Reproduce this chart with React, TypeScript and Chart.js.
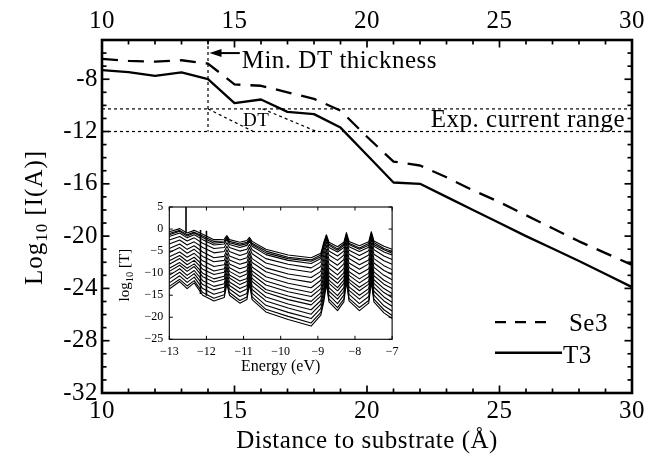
import React, { useEffect, useRef } from 'react';
import { Chart, registerables } from 'chart.js';

Chart.register(...registerables);

const FONT = '"Liberation Serif", "Times New Roman", serif';

// ---------------- main chart data ----------------
const distance = [10, 11, 12, 13, 14, 15, 16, 17, 18, 19, 20, 21, 22, 23, 24, 25, 26, 27, 28, 29, 30];
const se3LogI = [-6.45, -6.6, -6.65, -6.55, -6.8, -8.4, -8.5, -9.0, -9.5, -10.4, -12.4, -14.3, -14.6, -15.5, -16.5, -17.4, -18.4, -19.4, -20.4, -21.3, -22.2];
const t3LogI = [-7.3, -7.45, -7.75, -7.47, -8.0, -9.83, -9.55, -10.5, -10.67, -11.7, -13.8, -15.9, -16.0, -17.0, -18.0, -19.0, -20.0, -20.95, -21.9, -22.9, -23.9];
const xTickValues = [10, 15, 20, 25, 30];
const yTickValues = [-32, -28, -24, -20, -16, -12, -8];
const minDTThickness = 14;
const expCurrentRange = [-10.27, -12];
const dtWedgeA = [[14, -10.27], [15.71, -12]];
const dtWedgeB = [[16.06, -10.27], [18.1, -12]];

// ---------------- inset data ----------------
const insetEnergy = [-13, -12.72, -12.52, -12.33, -12.1, -11.8, -11.52, -11.45, -11.38, -11.1, -10.91, -10.84, -10.77, -10.4, -9.8, -9.18, -8.92, -8.84, -8.77, -8.7, -8.47, -8.3, -8.23, -8.16, -7.88, -7.63, -7.56, -7.49, -7.22, -7.0];
const insetLogT = [
  [-0.6, 0.1, -0.9, -0.3, -1.2, -2.4, -2.3, -1.5, -2.4, -3.0, -2.6, -1.9, -2.8, -4.6, -5.9, -6.5, -5.5, -3.0, -1.3, -3.0, -4.0, -3.0, -0.8, -2.8, -3.8, -2.9, -0.6, -2.7, -3.9, -4.6],
  [-1.0, -0.3, -1.3, -0.7, -1.6, -2.8, -2.7, -1.8, -2.8, -3.4, -3.0, -2.2, -3.2, -5.0, -6.4, -7.0, -5.9, -3.4, -1.7, -3.4, -4.5, -3.4, -1.2, -3.2, -4.3, -3.3, -1.0, -3.1, -4.4, -5.1],
  [-1.3, -0.5, -1.6, -0.9, -1.9, -3.2, -3.0, -2.1, -3.1, -3.7, -3.3, -2.5, -3.5, -5.4, -6.7, -7.3, -6.3, -3.7, -1.9, -3.7, -4.8, -3.7, -1.4, -3.5, -4.6, -3.7, -1.2, -3.5, -4.7, -5.5],
  [-1.7, -0.9, -2.0, -1.3, -2.4, -3.6, -3.4, -2.4, -3.5, -4.2, -3.7, -2.8, -3.9, -5.8, -7.1, -7.8, -6.7, -4.2, -2.3, -4.2, -5.2, -4.2, -1.8, -4.0, -5.1, -4.1, -1.6, -3.9, -5.2, -5.9],
  [-2.5, -1.7, -2.7, -2.0, -3.2, -4.4, -4.2, -3.1, -4.2, -5.0, -4.6, -3.5, -4.7, -6.7, -8.0, -8.8, -7.5, -5.0, -2.9, -5.0, -6.1, -5.0, -2.4, -4.8, -6.0, -4.9, -2.3, -4.7, -6.1, -6.9],
  [-3.4, -2.5, -3.6, -2.9, -4.2, -5.4, -5.1, -3.9, -5.1, -6.0, -5.5, -4.2, -5.6, -7.7, -9.0, -9.8, -8.5, -5.9, -3.7, -5.9, -7.1, -5.9, -3.2, -5.7, -7.0, -5.9, -3.1, -5.7, -7.2, -8.0],
  [-4.4, -3.4, -4.6, -3.8, -5.2, -6.5, -6.2, -4.7, -6.1, -7.0, -6.5, -5.0, -6.7, -8.8, -10.2, -11.0, -9.6, -6.9, -4.6, -6.9, -8.2, -6.9, -4.1, -6.7, -8.1, -7.0, -3.9, -6.7, -8.3, -9.2],
  [-5.3, -4.2, -5.5, -4.6, -6.2, -7.4, -7.1, -5.5, -7.0, -8.0, -7.5, -5.7, -7.6, -9.7, -11.2, -12.1, -10.6, -7.9, -5.4, -7.9, -9.3, -7.9, -4.9, -7.7, -9.1, -7.9, -4.7, -7.7, -9.4, -10.3],
  [-6.3, -5.2, -6.4, -5.5, -7.2, -8.5, -8.1, -6.3, -7.9, -9.0, -8.5, -6.5, -8.6, -10.8, -12.3, -13.3, -11.6, -8.9, -6.2, -8.9, -10.4, -8.9, -5.7, -8.7, -10.2, -9.0, -5.6, -8.7, -10.5, -11.5],
  [-7.2, -6.0, -7.3, -6.4, -8.2, -9.5, -9.0, -7.1, -8.8, -10.0, -9.4, -7.3, -9.5, -11.8, -13.3, -14.4, -12.6, -9.9, -7.0, -9.9, -11.4, -9.9, -6.5, -9.7, -11.3, -10.0, -6.4, -9.7, -11.6, -12.6],
  [-8.0, -6.7, -8.1, -7.1, -9.1, -10.3, -9.8, -7.8, -9.6, -10.9, -10.2, -7.9, -10.3, -12.7, -14.2, -15.3, -13.5, -10.7, -7.7, -10.7, -12.3, -10.7, -7.2, -10.5, -12.2, -10.8, -7.1, -10.6, -12.5, -13.5],
  [-8.9, -7.6, -8.9, -7.9, -10.0, -11.3, -10.7, -8.5, -10.4, -11.8, -11.2, -8.7, -11.2, -13.7, -15.2, -16.4, -14.4, -11.6, -8.5, -11.6, -13.3, -11.6, -8.0, -11.4, -13.2, -11.8, -7.9, -11.5, -13.5, -14.6],
  [-9.6, -8.2, -9.6, -8.5, -10.8, -12.0, -11.4, -9.1, -11.1, -12.6, -11.9, -9.2, -11.9, -14.4, -16.0, -17.2, -15.2, -12.3, -9.1, -12.3, -14.0, -12.3, -8.6, -12.1, -14.0, -12.5, -8.5, -12.3, -14.4, -15.5],
  [-10.5, -9.0, -10.5, -9.4, -11.7, -13.0, -12.4, -9.9, -12.0, -13.5, -12.8, -10.0, -12.9, -15.4, -17.0, -18.3, -16.2, -13.3, -9.8, -13.3, -15.1, -13.3, -9.3, -13.1, -15.0, -13.5, -9.3, -13.2, -15.4, -16.6],
  [-11.3, -9.8, -11.3, -10.1, -12.6, -13.8, -13.2, -10.6, -12.8, -14.4, -13.6, -10.6, -13.7, -16.3, -17.9, -19.3, -17.0, -14.1, -10.5, -14.1, -15.9, -14.1, -10.0, -13.9, -15.9, -14.3, -10.0, -14.1, -16.3, -17.5],
  [-12.2, -10.6, -12.1, -10.9, -13.5, -14.8, -14.1, -11.3, -13.6, -15.3, -14.6, -11.4, -14.6, -17.3, -18.9, -20.3, -18.0, -15.0, -11.3, -15.0, -16.9, -15.0, -10.8, -14.8, -16.9, -15.3, -10.8, -15.0, -17.4, -18.6],
  [-13.0, -11.4, -12.9, -11.7, -14.4, -15.7, -14.9, -12.0, -14.4, -16.2, -15.4, -12.0, -15.4, -18.2, -19.8, -21.3, -18.9, -15.9, -12.0, -15.9, -17.8, -15.9, -11.5, -15.7, -17.8, -16.2, -11.5, -15.9, -18.3, -19.6],
  [-13.6, -11.9, -13.5, -12.2, -15.0, -16.3, -15.5, -12.5, -15.0, -16.8, -16.0, -12.5, -16.0, -18.8, -20.5, -22.0, -19.5, -16.5, -12.5, -16.5, -18.5, -16.5, -12.0, -16.3, -18.5, -16.8, -12.0, -16.5, -19.0, -20.3],
];
const insetSpikeEnergy = [-12.55, -12.16, -12.0];
const insetSpikeLow = [-0.9, -14.7, -15.1];
const insetSpikeHigh = [5, -0.2, -0.4];
const insetXTicks = [-13, -12, -11, -10, -9, -8, -7];
const insetYTicks = [5, 0, -5, -10, -15, -20, -25];

const minusFmt = (v: number) => String(v).replace('-', '\u2212');

function line(ctx: any, x0: number, y0: number, x1: number, y1: number) {
  ctx.beginPath();
  ctx.moveTo(x0, y0);
  ctx.lineTo(x1, y1);
  ctx.stroke();
}

function drawSubLabel(ctx: any, cx: number, cy: number, parts: [string, number, number][]) {
  ctx.save();
  ctx.translate(cx, cy);
  ctx.rotate(-Math.PI / 2);
  ctx.textAlign = 'left';
  ctx.textBaseline = 'alphabetic';
  let total = 0;
  const widths = parts.map(([t, s]) => {
    ctx.font = `${s}px ${FONT}`;
    const w = ctx.measureText(t).width;
    total += w;
    return w;
  });
  let x = -total / 2;
  parts.forEach(([t, s, dy], i) => {
    ctx.font = `${s}px ${FONT}`;
    ctx.fillText(t, x, dy);
    x += widths[i];
  });
  ctx.restore();
}

const mainDecor = {
  id: 'mainDecor',
  beforeDraw(chart: any) {
    chart.ctx.letterSpacing = '0.5px';
  },
  afterDatasetsDraw(chart: any) {
    const { ctx, chartArea, scales } = chart;
    const { left, right, top, bottom } = chartArea;
    const xs = scales.x;
    const ys = scales.y;
    ctx.save();
    ctx.strokeStyle = '#000';
    ctx.fillStyle = '#000';
    ctx.setLineDash([]);
    ctx.lineWidth = 1.7;
    for (let v = 10; v <= 30; v++) {
      const px = xs.getPixelForValue(v);
      const len = xTickValues.includes(v) ? 7.5 : 4.5;
      line(ctx, px, bottom, px, bottom - len);
      line(ctx, px, top, px, top + len);
    }
    for (let v = -32; v <= -5; v++) {
      const py = ys.getPixelForValue(v);
      const len = yTickValues.includes(v) ? 7.5 : 4.5;
      line(ctx, left, py, left + len, py);
      line(ctx, right, py, right - len, py);
    }
    ctx.lineWidth = 2.6;
    ctx.strokeRect(left, top, right - left, bottom - top);

    // arrow to the min DT thickness line
    const ay = ys.getPixelForValue(-6.0);
    const tip = xs.getPixelForValue(minDTThickness) + 1.5;
    const tail = xs.getPixelForValue(15.2);
    ctx.lineWidth = 2;
    line(ctx, tip + 8, ay, tail, ay);
    ctx.beginPath();
    ctx.moveTo(tip, ay);
    ctx.lineTo(tip + 12, ay - 4);
    ctx.lineTo(tip + 12, ay + 4);
    ctx.closePath();
    ctx.fill();

    ctx.letterSpacing = '0.5px';
    ctx.textBaseline = 'alphabetic';
    ctx.font = `25px ${FONT}`;
    ctx.textAlign = 'left';
    ctx.fillText('Min. DT thickness', xs.getPixelForValue(15.27), ys.getPixelForValue(-7.15));
    ctx.textAlign = 'right';
    ctx.fillText('Exp. current range', xs.getPixelForValue(29.74), ys.getPixelForValue(-11.64));
    ctx.font = `19px ${FONT}`;
    ctx.textAlign = 'center';
    ctx.textBaseline = 'middle';
    ctx.fillText('DT', xs.getPixelForValue(15.82), ys.getPixelForValue(-11.2));

    // legend
    ctx.lineWidth = 2.3;
    ctx.setLineDash([11, 9]);
    line(ctx, xs.getPixelForValue(24.83), ys.getPixelForValue(-26.58), xs.getPixelForValue(26.98), ys.getPixelForValue(-26.58));
    ctx.setLineDash([]);
    line(ctx, xs.getPixelForValue(24.83), ys.getPixelForValue(-28.92), xs.getPixelForValue(27.36), ys.getPixelForValue(-28.92));
    ctx.font = `25px ${FONT}`;
    ctx.textAlign = 'left';
    ctx.textBaseline = 'alphabetic';
    ctx.fillText('Se3', xs.getPixelForValue(27.62), ys.getPixelForValue(-27.27));
    ctx.fillText('T3', xs.getPixelForValue(27.4), ys.getPixelForValue(-29.68));

    // y axis title
    ctx.letterSpacing = '1px';
    drawSubLabel(ctx, 42, (top + bottom) / 2 + 1, [['Log', 25, 0], ['10', 17, 5], [' [I(A)]', 25, 0]]);
    ctx.restore();
  },
};

const insetDecor = {
  id: 'insetDecor',
  beforeDatasetsDraw(chart: any) {
    const { ctx, chartArea } = chart;
    ctx.save();
    ctx.fillStyle = '#fff';
    ctx.fillRect(chartArea.left, chartArea.top, chartArea.right - chartArea.left, chartArea.bottom - chartArea.top);
    ctx.restore();
  },
  afterDatasetsDraw(chart: any) {
    const { ctx, chartArea, scales } = chart;
    const { left, right, top, bottom } = chartArea;
    ctx.save();
    ctx.strokeStyle = '#000';
    ctx.fillStyle = '#000';
    ctx.lineWidth = 1;
    insetXTicks.forEach((v) => {
      const px = scales.x.getPixelForValue(v);
      line(ctx, px, bottom, px, bottom - 3.5);
      line(ctx, px, top, px, top + 3.5);
    });
    insetYTicks.forEach((v) => {
      const py = scales.y.getPixelForValue(v);
      line(ctx, left, py, left + 3.5, py);
      line(ctx, right, py, right - 3.5, py);
    });
    ctx.lineWidth = 1.1;
    ctx.strokeRect(left, top, right - left, bottom - top);
    drawSubLabel(ctx, 14, (top + bottom) / 2 + 2, [['log', 15, 0], ['10', 10.5, 3.5], [' [T]', 15, 0]]);
    ctx.restore();
  },
};

function mainConfig(): any {
  const dotted = { borderDash: [3, 3], borderWidth: 1.2, borderColor: '#000' };
  const tickFont = { family: FONT, size: 25, lineHeight: 1 };
  return {
    type: 'line',
    data: {
      datasets: [
        { ...dotted, data: [{ x: 10, y: expCurrentRange[0] }, { x: 30, y: expCurrentRange[0] }] },
        { ...dotted, data: [{ x: 10, y: expCurrentRange[1] }, { x: 30, y: expCurrentRange[1] }] },
        { ...dotted, data: [{ x: minDTThickness, y: -5 }, { x: minDTThickness, y: expCurrentRange[1] }] },
        { ...dotted, data: dtWedgeA.map(([x, y]) => ({ x, y })) },
        { ...dotted, data: dtWedgeB.map(([x, y]) => ({ x, y })) },
        {
          label: 'Se3',
          data: distance.map((d, i) => ({ x: d, y: se3LogI[i] })),
          borderColor: '#000',
          borderWidth: 2.3,
          borderDash: [16, 10],
        },
        {
          label: 'T3',
          data: distance.map((d, i) => ({ x: d, y: t3LogI[i] })),
          borderColor: '#000',
          borderWidth: 2.3,
        },
      ],
    },
    options: {
      responsive: false,
      animation: false,
      events: [],
      layout: { padding: { left: 0, right: 35, top: 0, bottom: 0 } },
      plugins: { legend: { display: false }, tooltip: { enabled: false }, title: { display: false } },
      elements: { point: { radius: 0 }, line: { tension: 0, fill: false, borderJoinStyle: 'round' } },
      scales: {
        x: {
          type: 'linear',
          position: 'bottom',
          min: 10,
          max: 30,
          afterBuildTicks: (s: any) => { s.ticks = xTickValues.map((v) => ({ value: v })); },
          afterFit: (s: any) => { s.height = 68; },
          grid: { display: false, drawTicks: false },
          border: { display: false },
          ticks: { font: tickFont, color: '#000', padding: 6, maxRotation: 0, autoSkip: false },
          title: {
            display: true,
            text: 'Distance to substrate (Å)',
            color: '#000',
            font: { family: FONT, size: 25, lineHeight: 1 },
            padding: { top: 0, bottom: 7 },
          },
        },
        x2: {
          type: 'linear',
          position: 'top',
          min: 10,
          max: 30,
          afterBuildTicks: (s: any) => { s.ticks = xTickValues.map((v) => ({ value: v })); },
          afterFit: (s: any) => { s.height = 40; },
          grid: { display: false, drawTicks: false },
          border: { display: false },
          ticks: { font: tickFont, color: '#000', padding: 6, maxRotation: 0, autoSkip: false },
        },
        y: {
          type: 'linear',
          position: 'left',
          min: -32,
          max: -5,
          afterBuildTicks: (s: any) => { s.ticks = yTickValues.map((v) => ({ value: v })); },
          afterFit: (s: any) => { s.width = 102; },
          grid: { display: false, drawTicks: false },
          border: { display: false },
          ticks: { font: tickFont, color: '#000', padding: 4, autoSkip: false },
        },
      },
    },
    plugins: [mainDecor],
  };
}

function insetConfig(): any {
  const curves = insetLogT.map((curve) => ({
    data: insetEnergy.map((e, i) => ({ x: e, y: curve[i] })),
    borderColor: '#000',
    borderWidth: 1.1,
  }));
  const spikes = insetSpikeEnergy.map((e, i) => ({
    data: [{ x: e, y: insetSpikeLow[i] }, { x: e, y: insetSpikeHigh[i] }],
    borderColor: '#000',
    borderWidth: 1.6,
  }));
  return {
    type: 'line',
    data: { datasets: [...curves, ...spikes] },
    options: {
      responsive: false,
      animation: false,
      events: [],
      layout: { padding: { left: 0, right: 10, top: 10, bottom: 0 } },
      plugins: { legend: { display: false }, tooltip: { enabled: false } },
      elements: { point: { radius: 0 }, line: { tension: 0, fill: false, borderJoinStyle: 'round' } },
      scales: {
        x: {
          type: 'linear',
          min: -13,
          max: -7,
          afterBuildTicks: (s: any) => { s.ticks = insetXTicks.map((v) => ({ value: v })); },
          afterFit: (s: any) => { s.height = 45.7; },
          grid: { display: false, drawTicks: false },
          border: { display: false },
          ticks: { font: { family: FONT, size: 12, lineHeight: 1 }, color: '#000', padding: 6.5, maxRotation: 0, autoSkip: false, callback: (v: number) => minusFmt(v) },
          title: {
            display: true,
            text: 'Energy (eV)',
            color: '#000',
            font: { family: FONT, size: 16, lineHeight: 1 },
            padding: { top: 0, bottom: 10 },
          },
        },
        y: {
          type: 'linear',
          min: -25,
          max: 5,
          afterBuildTicks: (s: any) => { s.ticks = insetYTicks.map((v) => ({ value: v })); },
          afterFit: (s: any) => { s.width = 54.3; },
          grid: { display: false, drawTicks: false },
          border: { display: false },
          ticks: { font: { family: FONT, size: 12, lineHeight: 1 }, color: '#000', padding: 6, autoSkip: false, callback: (v: number) => minusFmt(v) },
        },
      },
    },
    plugins: [insetDecor],
  };
}

export default function App() {
  const mainRef = useRef<HTMLCanvasElement>(null);
  const insetRef = useRef<HTMLCanvasElement>(null);
  useEffect(() => {
    const main = new Chart(mainRef.current as HTMLCanvasElement, mainConfig());
    const inset = new Chart(insetRef.current as HTMLCanvasElement, insetConfig());
    return () => {
      main.destroy();
      inset.destroy();
    };
  }, []);
  return (
    <div style={{ position: 'fixed', left: 0, top: 0, width: 667, height: 461, background: '#fff' }}>
      <canvas ref={mainRef} width={667} height={461} style={{ position: 'absolute', left: 0, top: 0, width: 667, height: 461 }} />
      <canvas ref={insetRef} width={290} height={190} style={{ position: 'absolute', left: 115, top: 195, width: 290, height: 190 }} />
    </div>
  );
}
